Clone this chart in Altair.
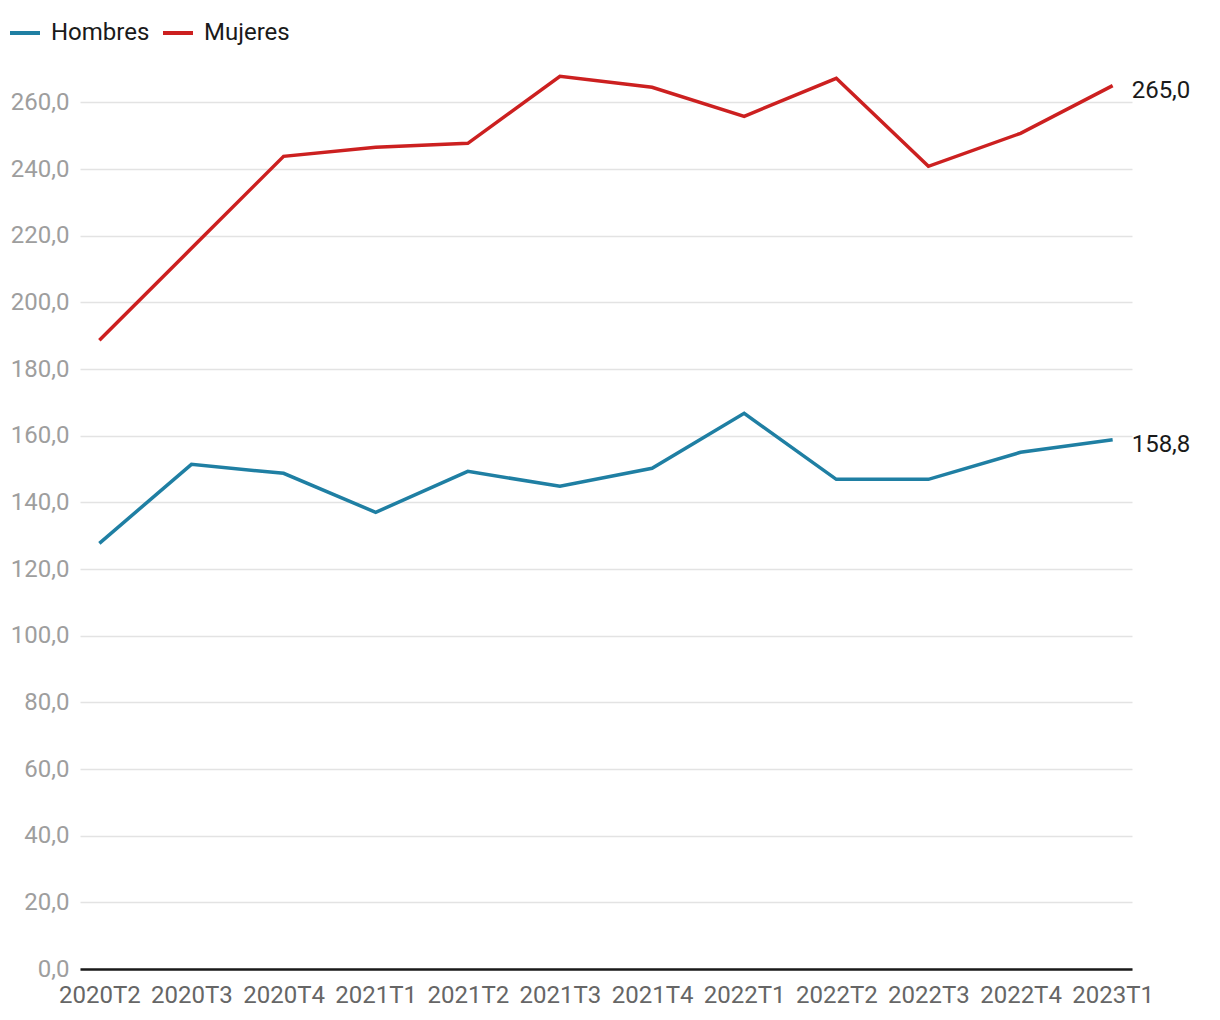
import altair as alt
import pandas as pd

periods = ["2020T2", "2020T3", "2020T4", "2021T1", "2021T2", "2021T3",
           "2021T4", "2022T1", "2022T2", "2022T3", "2022T4", "2023T1"]
hombres = [127.7, 151.4, 148.7, 137.0, 149.3, 144.8, 150.2, 166.7, 146.9, 146.9, 155.0, 158.8]
mujeres = [188.6, 216.2, 243.8, 246.5, 247.7, 267.8, 264.5, 255.8, 267.2, 240.8, 250.7, 265.0]
series = ["Hombres", "Mujeres"]
colors = ["#1f7fa3", "#cc2020"]

rows = []
for name, vals in zip(series, [hombres, mujeres]):
    for p, v in zip(periods, vals):
        rows.append({"periodo": p, "serie": name, "valor": v,
                     "etiqueta": f"{v:.1f}".replace(".", ",")})
df = pd.DataFrame(rows)

x = alt.X("periodo:N", sort=periods, title=None,
          scale=alt.Scale(type="point", padding=0.21),
          axis=alt.Axis(labelAngle=0, ticks=False, domainColor="#1a1a1a", domainWidth=2.5,
                        labelColor="#666666", labelFontSize=24, labelPadding=14,
                        grid=False))
y = alt.Y("valor:Q", title=None,
          scale=alt.Scale(domain=[0, 270], nice=False),
          axis=alt.Axis(values=list(range(0, 261, 20)),
                        labelExpr="replace(format(datum.value, '.1f'), '.', ',')",
                        domain=False, ticks=False, labelColor="#9e9e9e", labelFontSize=24,
                        labelPadding=11, gridColor="#e3e3e3", gridWidth=1.5))
color = alt.Color("serie:N", scale=alt.Scale(domain=series, range=colors),
                  legend=alt.Legend(title=None, orient="none", legendX=-72, legendY=-53,
                                    direction="horizontal", symbolType="stroke",
                                    symbolSize=900, symbolStrokeWidth=4,
                                    labelFontSize=24, labelColor="#1a1a1a",
                                    labelOffset=9, columnPadding=5))

lines = alt.Chart(df).mark_line(strokeWidth=3.5).encode(x=x, y=y, color=color)
labels = alt.Chart(df[df["periodo"] == periods[-1]]).mark_text(
    align="left", baseline="middle", dx=19, dy=5, fontSize=24, color="#1a1a1a"
).encode(x=alt.X("periodo:N", sort=periods), y="valor:Q", text="etiqueta:N")

chart = (lines + labels).properties(
    width=1052, height=900,
    autosize=alt.AutoSizeParams(type="none"),
    padding={"left": 80, "top": 69, "right": 88, "bottom": 51},
).configure(font="Roboto").configure_view(stroke=None)

chart.save("out.html", embed_options={"renderer": "svg", "actions": False})
